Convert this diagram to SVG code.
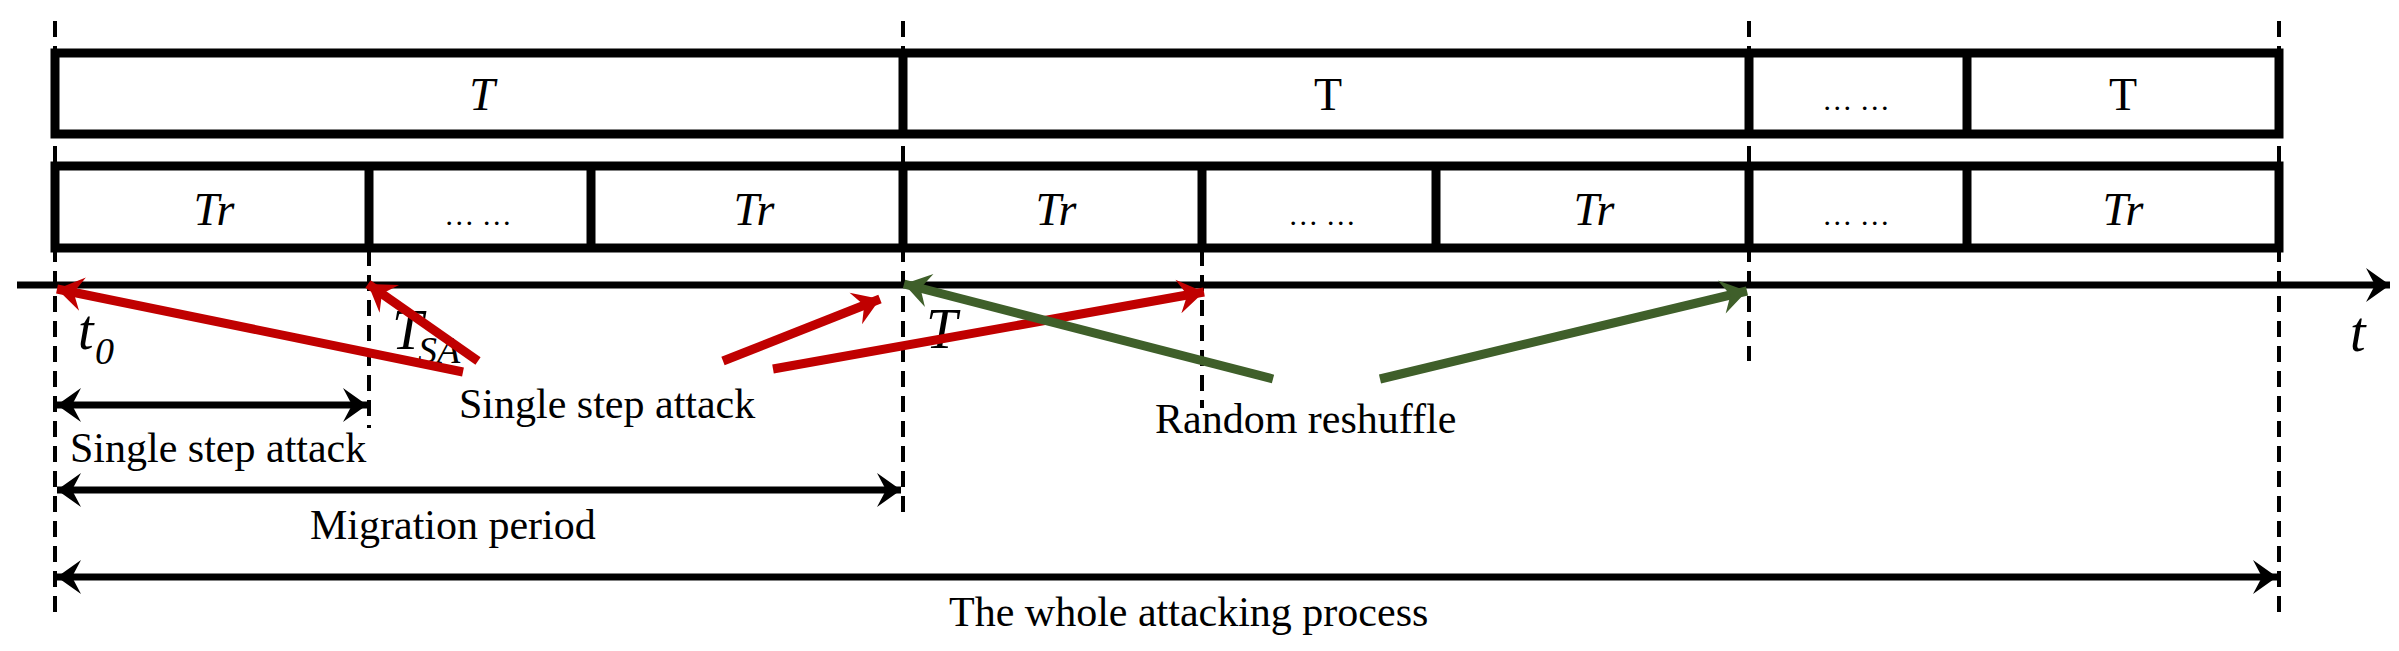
<svg xmlns="http://www.w3.org/2000/svg" width="2399" height="651" viewBox="0 0 2399 651">
<style>
.box{fill:none;stroke:#000;stroke-width:9}
.dash{stroke:#000;stroke-width:4;stroke-dasharray:16,9;fill:none}
.t{font-family:"Liberation Serif","Times New Roman",serif;font-size:46px;fill:#000;text-anchor:middle}
.i{font-style:italic}
.l{font-family:"Liberation Serif","Times New Roman",serif;font-size:42px;fill:#000}
.d{font-size:30px}
.big{font-size:56px}
.sub{font-size:38px}
.ax{stroke:#000;stroke-width:7;fill:none}
.red{stroke:#c00000;stroke-width:9;fill:none}
.grn{stroke:#3f5f2a;stroke-width:9;fill:none}
</style>
<defs>
<marker id="ab" markerUnits="userSpaceOnUse" markerWidth="40" markerHeight="40" viewBox="-30 -20 40 40" refX="0" refY="0" orient="auto-start-reverse"><path d="M0,0 L-24,-17 L-15,0 L-24,17 Z" fill="#000"/></marker>
<marker id="ar" markerUnits="userSpaceOnUse" markerWidth="40" markerHeight="40" viewBox="-30 -20 40 40" refX="0" refY="0" orient="auto"><path d="M0,0 L-26,-17 L-17,0 L-26,17 Z" fill="#c00000"/></marker>
<marker id="ag" markerUnits="userSpaceOnUse" markerWidth="40" markerHeight="40" viewBox="-30 -20 40 40" refX="0" refY="0" orient="auto"><path d="M0,0 L-26,-17 L-17,0 L-26,17 Z" fill="#3f5f2a"/></marker>
</defs>
<g id="guides">
<line class="dash" x1="55" y1="21" x2="55" y2="616"/>
<line class="dash" x1="369" y1="250" x2="369" y2="428"/>
<line class="dash" x1="903" y1="21" x2="903" y2="519"/>
<line class="dash" x1="1202" y1="250" x2="1202" y2="408"/>
<line class="dash" x1="1749" y1="21" x2="1749" y2="361"/>
<line class="dash" x1="2279" y1="21" x2="2279" y2="616"/>
</g>
<g id="periods">
<rect class="box" x="55" y="53" width="2224" height="81"/>
<line class="box" x1="903" y1="53" x2="903" y2="134"/>
<line class="box" x1="1749" y1="53" x2="1749" y2="134"/>
<line class="box" x1="1967" y1="53" x2="1967" y2="134"/>
<text class="t i" x="482" y="110">T</text>
<text class="t" x="1328" y="110">T</text>
<text class="t d" x="1856" y="110">… …</text>
<text class="t" x="2123" y="110">T</text>
</g>
<g id="rounds">
<rect class="box" x="55" y="166" width="2224" height="82"/>
<line class="box" x1="369" y1="166" x2="369" y2="248"/>
<line class="box" x1="591" y1="166" x2="591" y2="248"/>
<line class="box" x1="903" y1="166" x2="903" y2="248"/>
<line class="box" x1="1202" y1="166" x2="1202" y2="248"/>
<line class="box" x1="1436" y1="166" x2="1436" y2="248"/>
<line class="box" x1="1749" y1="166" x2="1749" y2="248"/>
<line class="box" x1="1967" y1="166" x2="1967" y2="248"/>
<text class="t i" x="214" y="225">Tr</text>
<text class="t d" x="478" y="225">… …</text>
<text class="t i" x="754" y="225">Tr</text>
<text class="t i" x="1056" y="225">Tr</text>
<text class="t d" x="1322" y="225">… …</text>
<text class="t i" x="1594" y="225">Tr</text>
<text class="t d" x="1856" y="225">… …</text>
<text class="t i" x="2123" y="225">Tr</text>
</g>
<g id="axis">
<line class="ax" x1="17" y1="285" x2="2390" y2="285" marker-end="url(#ab)"/>
<text class="l i big" x="2350" y="351">t</text>
<text class="l i big" x="78" y="349">t</text>
<text class="l i sub" x="95" y="364">0</text>
<text class="l i big" x="392" y="349">T</text>
<text class="l i sub" x="418" y="363">SA</text>
<text class="l i big" x="926" y="348">T</text>
</g>
<g id="connectors">
<line class="red" x1="463" y1="372" x2="57" y2="289" marker-end="url(#ar)"/>
<line class="red" x1="478" y1="361" x2="368" y2="284" marker-end="url(#ar)"/>
<line class="red" x1="723" y1="361" x2="880" y2="299" marker-end="url(#ar)"/>
<line class="red" x1="773" y1="369" x2="1204" y2="292" marker-end="url(#ar)"/>
<line class="grn" x1="1273" y1="379" x2="904" y2="284" marker-end="url(#ag)"/>
<line class="grn" x1="1380" y1="379" x2="1747" y2="291" marker-end="url(#ag)"/>
<line class="ax" x1="57" y1="405" x2="367" y2="405" marker-start="url(#ab)" marker-end="url(#ab)"/>
<line class="ax" x1="57" y1="490" x2="901" y2="490" marker-start="url(#ab)" marker-end="url(#ab)"/>
<line class="ax" x1="57" y1="577" x2="2277" y2="577" marker-start="url(#ab)" marker-end="url(#ab)"/>
</g>
<g id="labels">
<text class="l" x="459" y="418">Single step attack</text>
<text class="l" x="1155" y="433">Random reshuffle</text>
<text class="l" x="70" y="462">Single step attack</text>
<text class="l" x="310" y="539">Migration period</text>
<text class="l" x="949" y="626">The whole attacking process</text>
</g>
</svg>
